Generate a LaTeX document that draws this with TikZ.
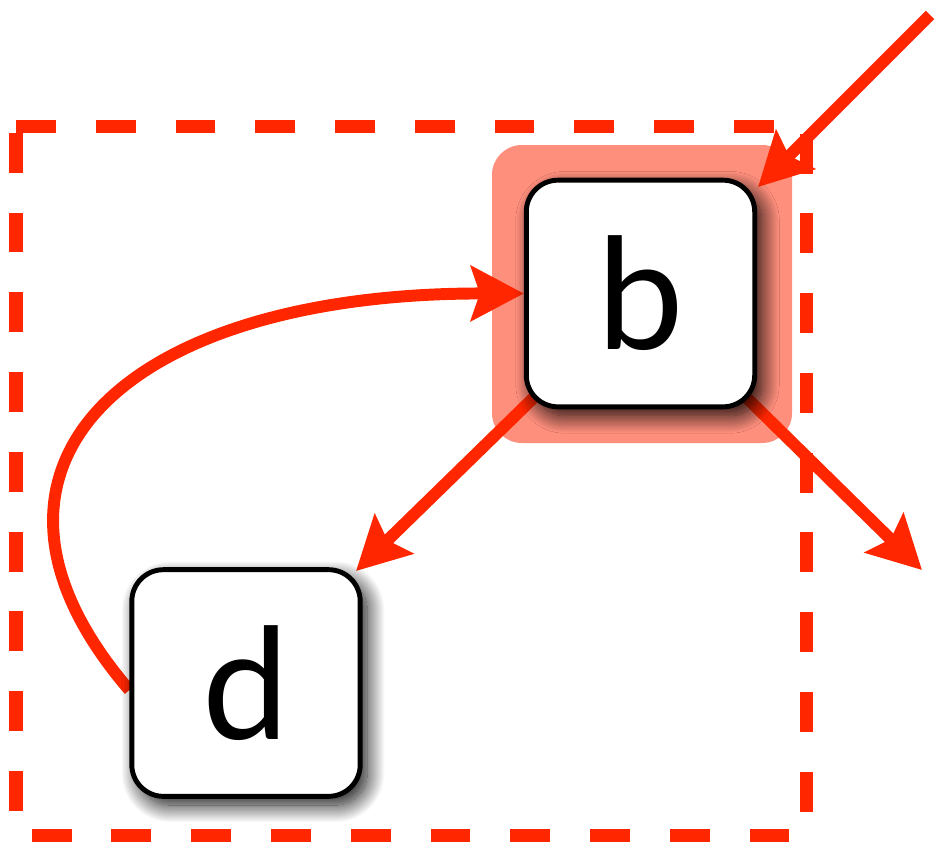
\documentclass[tikz,border=0pt]{standalone}
\usepackage{fontspec}
\setmainfont{Lato}
\usetikzlibrary{arrows.meta,shadows.blur,backgrounds}
\definecolor{redline}{RGB}{255,38,0}
\definecolor{hl}{RGB}{255,143,125}
\begin{document}
\begin{tikzpicture}[x=0.02cm,y=-0.02cm,
  box/.style={draw=black, line width=2.8pt, fill=white, rounded corners=18pt,
    minimum width=130pt, minimum height=129pt, inner sep=0pt,
    font=\fontsize{88}{88}\selectfont,
    blur shadow={shadow xshift=4pt, shadow yshift=-5pt, shadow blur radius=10pt, shadow blur steps=25, shadow opacity=95}},
  conn/.style={draw=redline, line width=6.8pt, -{Stealth[length=30pt,width=31pt,inset=5pt]}},
  frame/.style={draw=redline, line width=7.4pt, dash pattern=on 22.7pt off 22.7pt},
  ]
\useasboundingbox (0,0) rectangle (935,842);
% nodes
\node[box] (b) at (640.5,293.5) {b};
\node[box] (d) at (246,683) {d};
% free ends
\coordinate (in) at (930,15);
\coordinate (tipb) at (758,187);
\coordinate (tipd) at (356,571);
\coordinate (out) at (922,570);
\begin{scope}[on background layer]
% dashed frame
\draw[frame] (16,126) -- (806,126) -- (806,835) -- (16,835) -- cycle;
% highlight behind b
\fill[hl, rounded corners=17pt] (492,145) rectangle (792,443);
% connectors
\draw[conn] (in) -- (tipb);
\draw[conn] (b.center) -- (tipd);
\draw[conn] (b.center) -- (out);
\draw[conn] ([yshift=-4]d.west) .. controls (-60,470) and (120,293) .. (b.west);
\end{scope}
\end{tikzpicture}
\end{document}
